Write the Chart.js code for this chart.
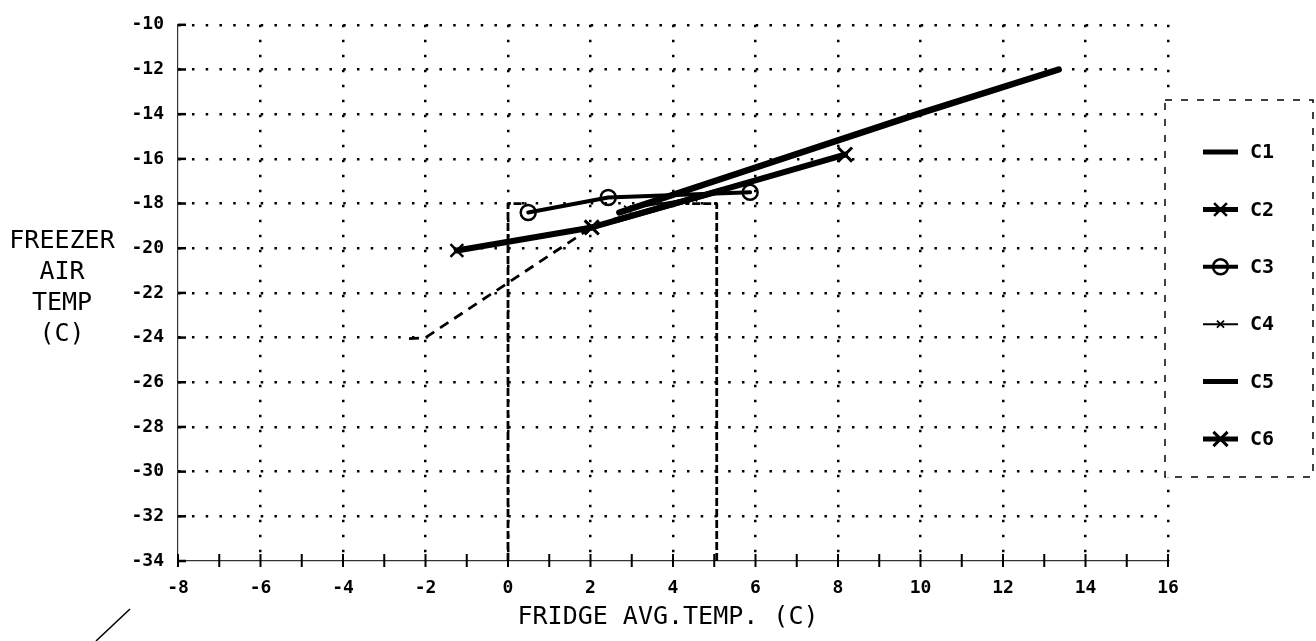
<!DOCTYPE html>
<html>
<head>
<meta charset="utf-8">
<script src="https://cdn.jsdelivr.net/npm/chart.js"></script>
<style>
  html, body { margin: 0; padding: 0; background: #fff; }
  #wrap { width: 1316px; height: 641px; }
</style>
</head>
<body>
<div id="wrap"><canvas id="chart-freezer" width="1316" height="641"></canvas></div>
<script>
// fridge average temp (x) vs freezer air temp (y), one run per series
const seriesNames = ['C1', 'C2', 'C3', 'C4', 'C5', 'C6'];

const c1X = [2.7, 10.0, 13.35];
const c1Y = [-18.4, -13.95, -12.0];
const c2X = [-1.24, 2.03];
const c2Y = [-20.1, -19.07];
const c3X = [0.49, 2.43, 5.87];
const c3Y = [-18.4, -17.73, -17.5];
const c4X = [2.9, 4.5];
const c4Y = [-18.25, -17.75];
const c5X = [2.6, 5.2];
const c5Y = [-18.75, -17.4];
const c6X = [2.03, 8.17];
const c6Y = [-19.07, -15.81];

// hand-drawn read-off guides
const guideDiagX = [-2.4, -2.0, 2.0];
const guideDiagY = [-24.05, -24.0, -19.1];
const guideZeroX = [0, 0, 0.45];
const guideZeroY = [-34, -18.0, -18.0];
const guideFiveX = [5.06, 5.06, 4.3];
const guideFiveY = [-34, -18.0, -18.0];

const xTicks = { min: -8, max: 16, step: 2 };
const yTicks = { min: -34, max: -10, step: 2 };

const xTitle = 'FRIDGE AVG.TEMP. (C)';
const yTitle = ['FREEZER', 'AIR', 'TEMP', '(C)'];

const pts = (xs, ys) => xs.map((x, i) => ({ x, y: ys[i] }));

const series = (label, xs, ys, extra) => Object.assign({
    label,
    data: pts(xs, ys),
    showLine: true,
    borderColor: '#000',
    backgroundColor: 'rgba(0,0,0,0)',
    pointBorderColor: '#000',
    pointBackgroundColor: 'rgba(0,0,0,0)',
    borderCapStyle: 'round',
    borderJoinStyle: 'round',
    tension: 0,
    pointRadius: 0,
    inLegend: true
}, extra);

const guide = (label, xs, ys, dash) => series(label, xs, ys, {
    borderWidth: 2.8,
    borderDash: dash,
    borderCapStyle: 'butt',
    inLegend: false
});

const datasets = [
    guide('g1', guideDiagX, guideDiagY, [10, 7]),
    guide('g2', guideZeroX, guideZeroY, [8, 3]),
    guide('g3', guideFiveX, guideFiveY, [8, 3]),
    series(seriesNames[2], c3X, c3Y, { borderWidth: 4, pointStyle: 'circle', pointRadius: 7.5, pointBorderWidth: 2.5 }),
    series(seriesNames[3], c4X, c4Y, { borderWidth: 2, pointStyle: 'crossRot', pointRadius: 5, pointBorderWidth: 1.8 }),
    series(seriesNames[4], c5X, c5Y, { borderWidth: 6 }),
    series(seriesNames[0], c1X, c1Y, { borderWidth: 6.5 }),
    series(seriesNames[1], c2X, c2Y, { borderWidth: 6, pointStyle: 'crossRot', pointRadius: 9, pointBorderWidth: 2.5 }),
    series(seriesNames[5], c6X, c6Y, { borderWidth: 6, pointStyle: 'crossRot', pointRadius: 10, pointBorderWidth: 3 })
];

const labelFont = { family: "'DejaVu Sans Mono', monospace", size: 18, weight: 'bold' };
const titleFont = "25px 'DejaVu Sans Mono', monospace";

// small axis marks: every unit on x, every even value on y (inside)
const axisMarks = {
    id: 'axisMarks',
    afterDatasetsDraw(chart) {
        const { ctx, chartArea: a, scales: { x, y } } = chart;
        ctx.save();
        ctx.strokeStyle = '#000';
        ctx.lineWidth = 2;
        for (let v = x.min; v <= x.max; v++) {
            const px = x.getPixelForValue(v);
            ctx.beginPath();
            ctx.moveTo(px, a.bottom - 7);
            ctx.lineTo(px, a.bottom + 6);
            ctx.stroke();
        }
        ctx.lineWidth = 2.5;
        for (let v = y.min; v <= y.max; v += 2) {
            const py = y.getPixelForValue(v);
            ctx.beginPath();
            ctx.moveTo(a.left, py);
            ctx.lineTo(a.left + 8, py);
            ctx.stroke();
        }
        ctx.restore();
    }
};

const axisTitles = {
    id: 'axisTitles',
    afterDraw(chart) {
        const { ctx, chartArea: a } = chart;
        ctx.save();
        ctx.fillStyle = '#000';
        ctx.font = titleFont;
        ctx.textAlign = 'center';
        ctx.textBaseline = 'middle';
        yTitle.forEach((t, i) => ctx.fillText(t, 62, 241 + i * 31));
        ctx.fillText(xTitle, a.left + 490, a.bottom + 56);
        // stray pen stroke under the y labels
        ctx.strokeStyle = '#000';
        ctx.lineWidth = 1.5;
        ctx.beginPath();
        ctx.moveTo(a.left - 82, a.bottom + 80);
        ctx.lineTo(a.left - 48, a.bottom + 48);
        ctx.stroke();
        ctx.restore();
    }
};

// boxed legend to the right of the plot
const sideLegend = {
    id: 'sideLegend',
    afterDraw(chart) {
        const { ctx, chartArea: a } = chart;
        const box = { x: a.right - 3, y: 100, w: 148, h: 377 };
        ctx.save();
        ctx.fillStyle = '#fff';
        ctx.fillRect(box.x, box.y, box.w, box.h);
        ctx.strokeStyle = '#000';
        ctx.lineWidth = 1.5;
        ctx.setLineDash([7, 9]);
        ctx.strokeRect(box.x, box.y, box.w, box.h);
        ctx.setLineDash([]);

        const items = chart.data.datasets.filter(d => d.inLegend)
            .sort((p, q) => seriesNames.indexOf(p.label) - seriesNames.indexOf(q.label));
        items.forEach((d, i) => {
            const cy = box.y + 52 + i * 57.4;
            const x0 = box.x + 38, x1 = box.x + 73;
            ctx.strokeStyle = '#000';
            ctx.lineWidth = Math.min(d.borderWidth, 5);
            ctx.beginPath();
            ctx.moveTo(x0, cy);
            ctx.lineTo(x1, cy);
            ctx.stroke();
            if (d.pointRadius > 0) {
                ctx.fillStyle = 'rgba(0,0,0,0)';
                ctx.lineWidth = d.pointBorderWidth;
                Chart.helpers.drawPoint(ctx, {
                    pointStyle: d.pointStyle,
                    rotation: 0,
                    radius: d.pointRadius,
                    borderWidth: d.pointBorderWidth
                }, (x0 + x1) / 2, cy);
            }
            ctx.fillStyle = '#000';
            ctx.font = "bold 20px 'DejaVu Sans Mono', monospace";
            ctx.textAlign = 'left';
            ctx.textBaseline = 'middle';
            ctx.fillText(d.label, box.x + 85, cy + 1);
        });
        ctx.restore();
    }
};

new Chart(document.getElementById('chart-freezer'), {
    type: 'scatter',
    data: { datasets },
    options: {
        responsive: false,
        animation: false,
        layout: { padding: { left: 0, right: 148, top: 21, bottom: 0 } },
        plugins: {
            legend: { display: false },
            tooltip: { enabled: false }
        },
        scales: {
            x: {
                type: 'linear',
                min: xTicks.min,
                max: xTicks.max,
                afterFit: s => { s.height = 80; },
                ticks: { stepSize: xTicks.step, color: '#000', font: labelFont, padding: 17 },
                grid: {
                    drawTicks: false,
                    color: c => (c.tick && c.tick.value === xTicks.min) ? 'rgba(0,0,0,0)' : '#000',
                    lineWidth: 2.5
                },
                border: { display: true, color: '#333', width: 1.2, dash: [2.5, 12.5] }
            },
            y: {
                type: 'linear',
                min: yTicks.min,
                max: yTicks.max,
                afterFit: s => { s.width = 178; },
                ticks: { stepSize: yTicks.step, color: '#000', font: labelFont, padding: 14 },
                grid: {
                    drawTicks: false,
                    color: c => (c.tick && c.tick.value === yTicks.min) ? 'rgba(0,0,0,0)' : '#000',
                    lineWidth: 2.5
                },
                border: { display: true, color: '#333', width: 1.2, dash: [2.5, 11.25] }
            }
        }
    },
    plugins: [axisMarks, axisTitles, sideLegend]
});
</script>
</body>
</html>
